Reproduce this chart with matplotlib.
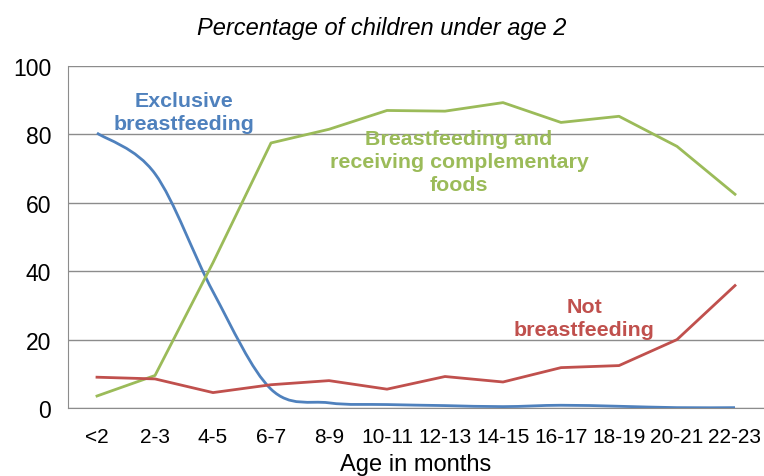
import matplotlib
matplotlib.use("Agg")
import matplotlib.pyplot as plt
import numpy as np
from matplotlib.path import Path
from matplotlib.patches import PathPatch

plt.rcParams["font.family"] = ["Liberation Sans", "DejaVu Sans"]

ages = ["<2", "2-3", "4-5", "6-7", "8-9", "10-11", "12-13",
        "14-15", "16-17", "18-19", "20-21", "22-23"]
exclusive = [80.4, 68.5, 34.0, 5.5, 1.5, 1.0, 0.7, 0.4, 0.8, 0.5, 0.1, 0.1]
complementary = [3.5, 9.5, 42.5, 77.5, 81.5, 87.0, 86.8, 89.3, 83.5, 85.3, 76.5, 62.5]
not_bf = [9.0, 8.5, 4.5, 6.8, 8.0, 5.5, 9.2, 7.6, 11.8, 12.4, 20.0, 35.8]

BLUE = "#4F81BD"
RED = "#C0504D"
GREEN = "#9BBB59"
GRID = "#8C8C8C"


def smooth_path(x, y, tension=1 / 6):
    # cubic Bezier through every point, like a spreadsheet "smoothed line"
    x = np.asarray(x, float)
    y = np.asarray(y, float)
    verts = [(x[0], y[0])]
    codes = [Path.MOVETO]
    n = len(x)
    for i in range(n - 1):
        p0 = (x[max(i - 1, 0)], y[max(i - 1, 0)])
        p1 = (x[i], y[i])
        p2 = (x[i + 1], y[i + 1])
        p3 = (x[min(i + 2, n - 1)], y[min(i + 2, n - 1)])
        c1 = (p1[0] + (p2[0] - p0[0]) * tension, p1[1] + (p2[1] - p0[1]) * tension)
        c2 = (p2[0] - (p3[0] - p1[0]) * tension, p2[1] - (p3[1] - p1[1]) * tension)
        verts += [c1, c2, p2]
        codes += [Path.CURVE4] * 3
    return Path(verts, codes)


fig = plt.figure(figsize=(7.64, 4.77), dpi=100)
ax = fig.add_axes([0.089, 0.1426, 0.911, 0.7169])

xs = np.arange(len(ages))
ax.add_patch(PathPatch(smooth_path(xs, exclusive), facecolor="none",
                       edgecolor=BLUE, lw=2.0, zorder=3))
ax.plot(xs, complementary, color=GREEN, lw=2.0, zorder=3)
ax.plot(xs, not_bf, color=RED, lw=2.0, zorder=3)

ax.set_xlim(-0.5, len(ages) - 0.5)
ax.set_ylim(0, 100)
ax.set_yticks(range(0, 101, 20))
ax.set_xticks(xs, labels=ages)
ax.yaxis.grid(True, color=GRID, lw=1)
ax.set_axisbelow(True)
for side in ("top", "right"):
    ax.spines[side].set_visible(False)
for side in ("left", "bottom"):
    ax.spines[side].set_color(GRID)
ax.tick_params(axis="both", length=0, colors="black")
ax.tick_params(axis="y", labelsize=16.5, pad=12)
ax.tick_params(axis="x", labelsize=15, pad=14)

ax.set_xlabel("Age in months", fontsize=17, labelpad=5)
fig.text(0.5, 0.941, "Percentage of children under age 2", ha="center",
         va="center", fontsize=17, style="italic")

ax.text(1.5, 86.5, "Exclusive\nbreastfeeding", color=BLUE, fontsize=15.4,
        fontweight="bold", ha="center", va="center", linespacing=1.27)
ax.text(6.24, 72.0, "Breastfeeding and\nreceiving complementary\nfoods",
        color=GREEN, fontsize=15.4, fontweight="bold", ha="center",
        va="center", linespacing=1.27)
ax.text(8.4, 26.3, "Not\nbreastfeeding", color=RED, fontsize=15.4,
        fontweight="bold", ha="center", va="center", linespacing=1.27)

fig.savefig("out.png", dpi=100)
